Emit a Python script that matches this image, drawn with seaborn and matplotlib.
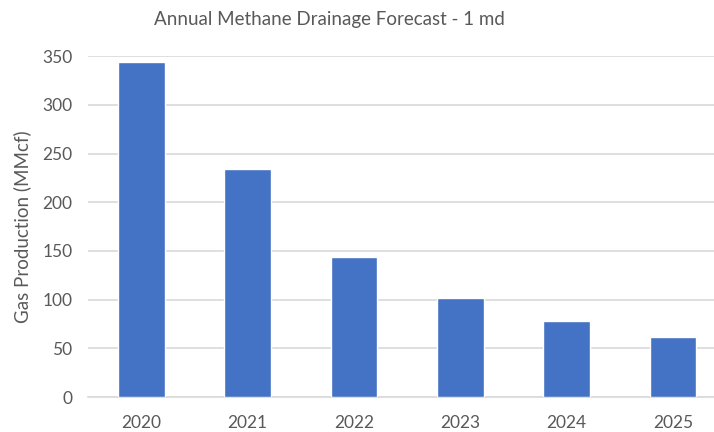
import numpy as np
import pandas as pd
import matplotlib
matplotlib.use("Agg")
import matplotlib.pyplot as plt
import seaborn as sns

years      = ["2020", "2021", "2022", "2023", "2024", "2025"]
production = [344, 234, 144, 102, 78, 62]

TXT  = "#595959"
GRID = "#d9d9d9"
BAR  = "#4472C4"

sns.set_style("white")
plt.rcParams["font.family"] = ["Lato", "DejaVu Sans"]

df = pd.DataFrame({"year": years, "gas": production})

fig = plt.figure(figsize=(7.14, 4.32), dpi=100)
ax = fig.add_axes([0.123, 0.081, 0.877, 0.789])

sns.barplot(data=df, x="year", y="gas", color=BAR, width=0.44,
            saturation=1, ax=ax, zorder=3)

ax.set_ylim(0, 350)
ax.set_yticks(np.arange(0, 351, 50))
ax.yaxis.grid(True, color=GRID, linewidth=1.2, zorder=0)
ax.set_axisbelow(True)
for s in ["top", "right", "left"]:
    ax.spines[s].set_visible(False)
ax.spines["bottom"].set_color(GRID)
ax.spines["bottom"].set_linewidth(1.2)
ax.tick_params(axis="both", length=0, labelsize=12.5, colors=TXT)
ax.tick_params(axis="x", pad=13)
ax.tick_params(axis="y", pad=11)
ax.set_xlabel("")
ax.set_ylabel("Gas Production (MMcf)", fontsize=13.5, color=TXT, labelpad=8)
ax.set_xlim(-0.503, 5.386)

fig.text(0.462, 0.955, "Annual Methane Drainage Forecast - 1 md",
         ha="center", va="center", fontsize=13.5, color=TXT)

fig.savefig("out.png", dpi=100)
